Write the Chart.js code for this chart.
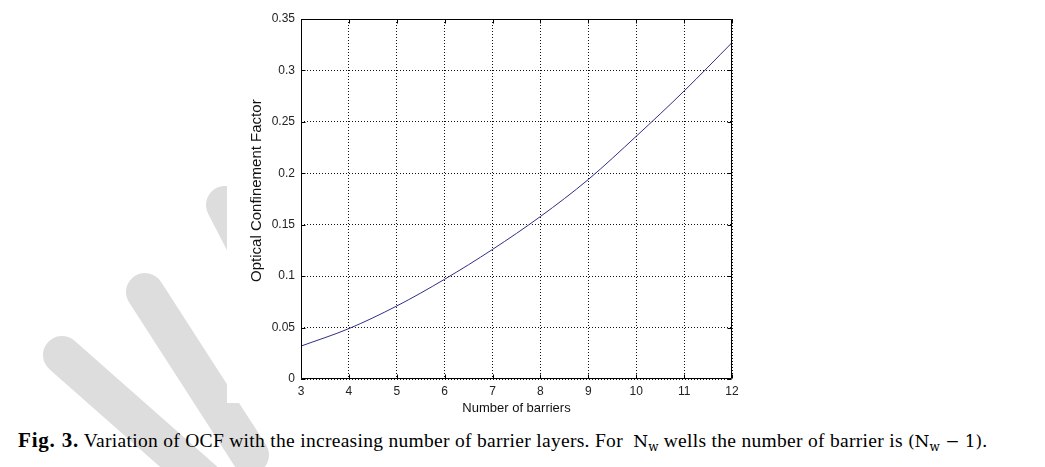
<!DOCTYPE html>
<html>
<head>
<meta charset="utf-8">
<script src="https://cdn.jsdelivr.net/npm/chart.js@4"></script>
<style>
  html, body { margin: 0; padding: 0; background: #fff; }
  #wrap { position: relative; width: 1045px; height: 467px; overflow: hidden; }
  #wm { position: absolute; left: 0; top: 0; z-index: 0; }
  #figbox { position: absolute; left: 227px; top: 0; width: 818px; height: 403px; background: #fff; z-index: 1; }
  #chart { position: absolute; left: 0; top: 0; z-index: 2; }
  #caption { position: absolute; left: 18px; top: 428px; z-index: 3; font-family: "Liberation Serif", "Times New Roman", serif; font-size: 19.5px; letter-spacing: 0.3px; color: #000; white-space: nowrap; line-height: 24px; }
  #caption b { font-size: 21px; letter-spacing: 0.8px; }
  #caption .m { font-family: "DejaVu Serif", "Liberation Serif", serif; font-size: 17px; letter-spacing: 0; }
  #caption sub { font-size: 12px; vertical-align: -4px; }
</style>
</head>
<body>
<div id="wrap">
  <svg id="wm" width="1045" height="467">
    <line x1="225" y1="205" x2="300" y2="350" stroke="#dddddd" stroke-width="38" stroke-linecap="round"/>
    <line x1="145" y1="292" x2="250" y2="455" stroke="#dddddd" stroke-width="38" stroke-linecap="round"/>
    <line x1="62" y1="355" x2="215" y2="490" stroke="#dddddd" stroke-width="38" stroke-linecap="round"/>
  </svg>
  <div id="figbox"></div>
  <canvas id="chart" width="1045" height="420"></canvas>
  <div id="caption"><b>Fig. 3.</b> Variation of OCF with the increasing number of barrier layers. For&nbsp; <span class="m">N<sub>w</sub></span> wells the number of barrier is <span class="m">(N<sub>w</sub> − 1)</span>.</div>
</div>
<script>
// Data
const barriers = [3, 4, 5, 6, 7, 8, 9, 10, 11, 12];
const ocf = [0.032, 0.049, 0.071, 0.097, 0.126, 0.158, 0.194, 0.236, 0.280, 0.327];
const xTicks = [3, 4, 5, 6, 7, 8, 9, 10, 11, 12];
const yTicks = [0, 0.05, 0.1, 0.15, 0.2, 0.25, 0.3, 0.35];
const xTitle = 'Number of barriers';
const yTitle = 'Optical Confinement Factor';

const fmt = v => String(parseFloat(Number(v).toFixed(2)));

const boxPlugin = {
  id: 'boxPlugin',
  afterDraw(chart) {
    const {ctx, chartArea: a, scales} = chart;
    ctx.save();
    ctx.strokeStyle = '#000';
    ctx.lineWidth = 1;
    ctx.setLineDash([]);
    ctx.beginPath();
    const L = Math.round(a.left) + 0.5, R = Math.round(a.right) - 0.5;
    const T = Math.round(a.top) + 0.5, B = Math.round(a.bottom) - 0.5;
    ctx.rect(L, T, R - L, B - T);
    const len = 4;
    xTicks.forEach(v => {
      const px = Math.round(scales.x.getPixelForValue(v)) + 0.5;
      ctx.moveTo(px, B); ctx.lineTo(px, B - len);
      ctx.moveTo(px, T); ctx.lineTo(px, T + len);
    });
    yTicks.forEach(v => {
      const py = Math.round(scales.y.getPixelForValue(v)) + 0.5;
      ctx.moveTo(L, py); ctx.lineTo(L + len, py);
      ctx.moveTo(R, py); ctx.lineTo(R - len, py);
    });
    ctx.stroke();
    ctx.restore();
  }
};

new Chart(document.getElementById('chart'), {
  type: 'line',
  data: {
    datasets: [{
      data: barriers.map((b, i) => ({x: b, y: ocf[i]})),
      borderColor: '#2e2e86',
      borderWidth: 1,
      pointRadius: 0,
      fill: false,
      cubicInterpolationMode: 'monotone'
    }]
  },
  options: {
    responsive: false,
    animation: false,
    layout: { padding: { left: 244, right: 313, top: 19, bottom: 0 }, autoPadding: false },
    plugins: { legend: { display: false }, tooltip: { enabled: false } },
    scales: {
      x: {
        type: 'linear', min: 3, max: 12,
        afterBuildTicks: s => { s.ticks = xTicks.map(v => ({value: v})); },
        afterFit: s => { s.height = 41; },
        grid: { color: '#111', lineWidth: 1, drawTicks: false },
        border: { display: false, dash: [1, 2] },
        ticks: { padding: 5, color: '#222', font: { family: 'Liberation Sans, Arial', size: 12 }, callback: v => String(v), maxRotation: 0 },
        title: { display: true, text: xTitle, color: '#111', font: { family: 'Liberation Sans, Arial', size: 13 }, padding: { top: 4, bottom: 4 } }
      },
      y: {
        type: 'linear', min: 0, max: 0.35,
        afterBuildTicks: s => { s.ticks = yTicks.map(v => ({value: v})); },
        afterFit: s => { s.width = 57; },
        grid: { color: '#111', lineWidth: 1, drawTicks: false },
        border: { display: false, dash: [1, 2] },
        ticks: { padding: 6, color: '#222', font: { family: 'Liberation Sans, Arial', size: 12 }, callback: v => fmt(v) },
        title: { display: true, text: '    ' + yTitle, color: '#111', font: { family: 'Liberation Sans, Arial', size: 15 }, padding: { top: 4, bottom: 4 } }
      }
    }
  },
  plugins: [boxPlugin]
});
</script>
</body>
</html>
